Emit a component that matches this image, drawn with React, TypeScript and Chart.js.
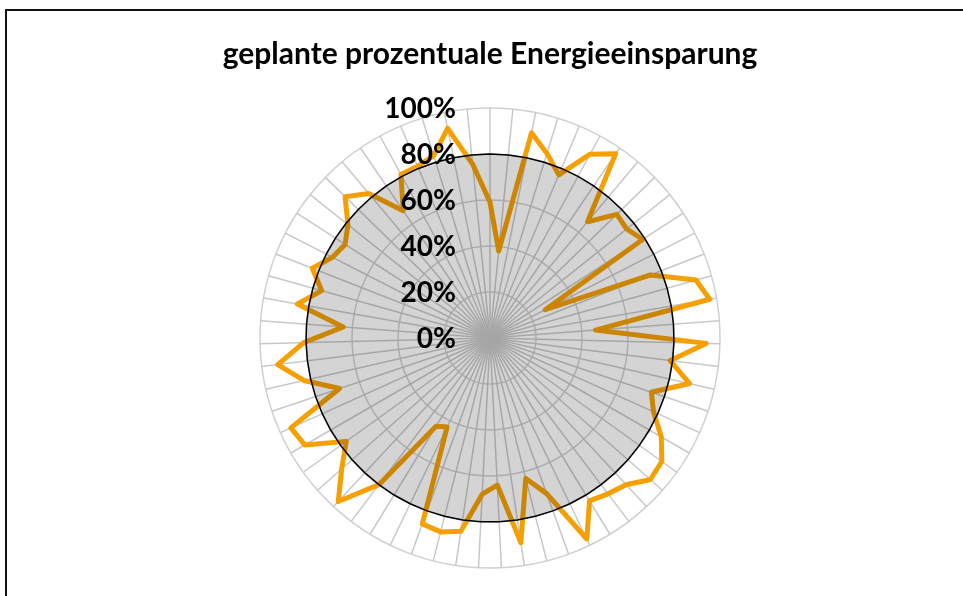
import React, { useEffect, useRef } from 'react';
import { Chart, registerables } from 'chart.js';

Chart.register(...registerables);

const TITLE = 'geplante prozentuale Energieeinsparung';

const CATEGORIES = [
  '1', '2', '3', '4', '5', '6', '7', '8', '9', '10',
  '11', '12', '13', '14', '15', '16', '17', '18', '19', '20',
  '21', '22', '23', '24', '25', '26', '27', '28', '29', '30',
  '31', '32', '33', '34', '35', '36', '37', '38', '39', '40',
  '41', '42', '43', '44', '45', '46', '47', '48', '49', '50',
  '51', '52', '53', '54', '55', '56', '57', '58', '59', '60',
  '61', '62', '63',
];

// geplante Einsparung (%)
const SAVINGS = [
  59, 38, 91, 84, 77, 91, 97, 66, 77, 76,
  79, 27, 75, 93, 97, 46, 94, 79, 89, 74,
  78, 86, 92, 93, 87, 85, 83, 97, 72, 63,
  90, 64, 68, 85, 87, 86, 43, 45, 80, 97,
  86, 77, 93, 95, 69, 83, 93, 81, 64, 85,
  76, 83, 77, 75, 79, 88, 82, 67, 81, 81,
  83, 93, 76,
];

// Referenzkreis (%)
const REFERENCE = [
  80, 80, 80, 80, 80, 80, 80, 80, 80, 80,
  80, 80, 80, 80, 80, 80, 80, 80, 80, 80,
  80, 80, 80, 80, 80, 80, 80, 80, 80, 80,
  80, 80, 80, 80, 80, 80, 80, 80, 80, 80,
  80, 80, 80, 80, 80, 80, 80, 80, 80, 80,
  80, 80, 80, 80, 80, 80, 80, 80, 80, 80,
  80, 80, 80,
];

const TICK_VALUES = [0, 20, 40, 60, 80, 100];
const TICK_LABELS = ['0%', '20%', '40%', '60%', '80%', '100%'];

const FONT_FAMILY = 'Lato, "Open Sans", "Liberation Sans", sans-serif';

const tickLabelPlugin = {
  id: 'tickLabelPlugin',
  afterDatasetsDraw(chart: any) {
    const scale = chart.scales.r;
    const ctx = chart.ctx;
    ctx.save();
    ctx.font = `bold 28px ${FONT_FAMILY}`;
    ctx.fillStyle = '#000000';
    ctx.textAlign = 'right';
    ctx.textBaseline = 'middle';
    TICK_VALUES.forEach((v, i) => {
      const d = scale.getDistanceFromCenterForValue(v);
      ctx.fillText(TICK_LABELS[i], scale.xCenter - 34, scale.yCenter - d + 1);
    });
    ctx.restore();
  },
};

const framePlugin = {
  id: 'framePlugin',
  afterDraw(chart: any) {
    const ctx = chart.ctx;
    ctx.save();
    ctx.fillStyle = '#111111';
    ctx.fillRect(5, 9, chart.width - 5, 2);
    ctx.fillRect(5, 9, 2, chart.height - 9);
    ctx.restore();
  },
};

function RadarChart() {
  const canvasRef = useRef<HTMLCanvasElement | null>(null);

  useEffect(() => {
    const canvas = canvasRef.current;
    if (!canvas) return;
    const chart = new Chart(canvas, {
      type: 'radar',
      data: {
        labels: CATEGORIES,
        datasets: [
          {
            label: 'Referenz',
            data: REFERENCE,
            borderColor: '#000000',
            borderWidth: 1.5,
            backgroundColor: 'rgba(0,0,0,0.17)',
            fill: true,
            pointRadius: 0,
            pointHoverRadius: 0,
          },
          {
            label: 'Einsparung',
            data: SAVINGS,
            borderColor: '#F5A000',
            borderWidth: 5,
            borderJoinStyle: 'round',
            backgroundColor: 'rgba(0,0,0,0)',
            fill: false,
            pointRadius: 0,
            pointHoverRadius: 0,
          },
        ],
      },
      options: {
        responsive: false,
        animation: false,
        layout: { padding: { left: 17, right: 0, top: 0, bottom: 28 } },
        plugins: {
          legend: { display: false },
          tooltip: { enabled: false },
          title: {
            display: true,
            text: TITLE,
            color: '#000000',
            font: { family: FONT_FAMILY, size: 30, weight: 'bold', lineHeight: 1.2 },
            padding: { top: 36, bottom: 36 },
          },
        },
        scales: {
          r: {
            min: 0,
            max: 100,
            ticks: { display: false, stepSize: 20 },
            pointLabels: { display: false },
            grid: { circular: true, color: '#D0D0D0', lineWidth: 1.5 },
            angleLines: { display: true, color: '#C8C8C8', lineWidth: 1.5 },
          },
        },
      },
      plugins: [tickLabelPlugin, framePlugin],
    });
    return () => chart.destroy();
  }, []);

  return (
    <div style={{ position: 'fixed', left: 0, top: 0, width: 963, height: 596, background: '#ffffff' }}>
      <canvas ref={canvasRef} width={963} height={596} style={{ display: 'block' }} />
    </div>
  );
}

export default function App() {
  return <RadarChart />;
}
